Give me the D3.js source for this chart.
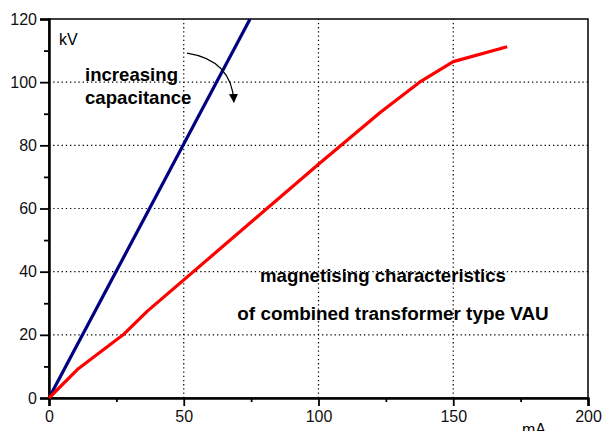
<!DOCTYPE html>
<html>
<head>
<meta charset="utf-8">
<script src="https://cdn.jsdelivr.net/npm/d3@7"></script>
<style>
  body { margin: 0; background: #fff; }
  svg { display: block; font-family: Arial, "Liberation Sans", sans-serif; }
</style>
</head>
<body>
<div id="app"></div>
<script>
// data
var xTicks = [0, 50, 100, 150, 200];
var xMinor = [25, 75, 125, 175];
var yTicks = [0, 20, 40, 60, 80, 100, 120];
var yMinor = [10, 30, 50, 70, 90, 110];

var capacitance = [[0, 0], [74.6, 120]];
var magnetising = [
  [0, 0], [10.5, 9], [27.5, 20], [36.5, 27.5], [100, 74],
  [123, 90.5], [137.5, 100], [150, 106.5], [170, 111.2]
];
var arrowPts = [[51.2, 109.2], [67.9, 107], [68.6, 93.7]];

var width = 604, height = 431;
var margin = { left: 49, right: 16, top: 19, bottom: 33 };

var svg = d3.select('#app').append('svg')
  .attr('width', width)
  .attr('height', height);

var x = d3.scaleLinear().domain([0, 200]).range([margin.left, width - margin.right]);
var y = d3.scaleLinear().domain([0, 120]).range([height - margin.bottom, margin.top]);

svg.append('defs').append('clipPath').attr('id', 'plot')
  .append('rect')
  .attr('x', x(0)).attr('y', y(120))
  .attr('width', x(200) - x(0)).attr('height', y(0) - y(120));

// grid
var grid = svg.append('g').attr('stroke', '#000').attr('stroke-width', 1.2)
  .attr('stroke-dasharray', '1.3,2.9');
grid.selectAll('line.gx').data(xTicks.slice(1, -1)).enter().append('line')
  .attr('x1', d => x(d)).attr('x2', d => x(d))
  .attr('y1', y(0)).attr('y2', y(120));
grid.selectAll('line.gy').data(yTicks.slice(1, -1)).enter().append('line')
  .attr('x1', x(0)).attr('x2', x(200))
  .attr('y1', d => y(d)).attr('y2', d => y(d));

// frame
svg.append('rect')
  .attr('x', x(0)).attr('y', y(120))
  .attr('width', x(200) - x(0)).attr('height', y(0) - y(120))
  .attr('fill', 'none').attr('stroke', '#000').attr('stroke-width', 1.5);

// axes
svg.append('g').attr('transform', 'translate(0,' + y(0) + ')')
  .call(d3.axisBottom(x).tickValues(xTicks).tickSize(8).tickPadding(5));
svg.append('g').attr('transform', 'translate(0,' + y(0) + ')')
  .call(d3.axisBottom(x).tickValues(xMinor).tickSize(4).tickFormat(''))
  .call(g => g.select('.domain').remove());
svg.append('g').attr('transform', 'translate(' + x(0) + ',0)')
  .call(d3.axisLeft(y).tickValues(yTicks).tickSize(9).tickPadding(3));
svg.append('g').attr('transform', 'translate(' + x(0) + ',0)')
  .call(d3.axisLeft(y).tickValues(yMinor).tickSize(5).tickFormat(''))
  .call(g => g.select('.domain').remove());

svg.selectAll('.domain').attr('stroke-width', 2.5);
svg.selectAll('.tick line').attr('stroke-width', 1.8);
svg.selectAll('.tick text')
  .attr('font-size', 16)
  .attr('font-family', 'Arial, "Liberation Sans", sans-serif')
  .attr('fill', '#111');

// lines
var line = d3.line().x(d => x(d[0])).y(d => y(d[1]));

svg.append('path').datum(capacitance)
  .attr('clip-path', 'url(#plot)')
  .attr('d', line)
  .attr('fill', 'none')
  .attr('stroke', '#000080')
  .attr('stroke-width', 3.2);

svg.append('path').datum(magnetising)
  .attr('d', line)
  .attr('fill', 'none')
  .attr('stroke', '#ff0000')
  .attr('stroke-width', 3.2)
  .attr('stroke-linejoin', 'round');

// curved arrow
svg.select('defs').append('marker')
  .attr('id', 'head')
  .attr('viewBox', '0 0 10 10')
  .attr('refX', 9).attr('refY', 5)
  .attr('markerWidth', 9).attr('markerHeight', 12)
  .attr('markerUnits', 'userSpaceOnUse')
  .attr('orient', 'auto')
  .append('path').attr('d', 'M0,0 L10,5 L0,10 Z').attr('fill', '#000');

var ap = arrowPts.map(p => [x(p[0]), y(p[1])]);
svg.append('path')
  .attr('d', 'M' + ap[0] + ' Q' + ap[1] + ' ' + ap[2])
  .attr('fill', 'none')
  .attr('stroke', '#000')
  .attr('stroke-width', 1.2)
  .attr('marker-end', 'url(#head)');

// labels
svg.append('text').attr('x', 59).attr('y', 45)
  .attr('font-size', 16).text('kV');
svg.append('text').attr('x', 522).attr('y', 435)
  .attr('font-size', 16).text('mA');

var bold = svg.append('g').attr('font-size', 18.6).attr('font-weight', 'bold');
bold.append('text').attr('x', 85).attr('y', 81).text('increasing');
bold.append('text').attr('x', 85).attr('y', 104).text('capacitance');
bold.append('text').attr('x', 383).attr('y', 282).attr('text-anchor', 'middle')
  .text('magnetising characteristics');
bold.append('text').attr('x', 393).attr('y', 320).attr('text-anchor', 'middle')
  .attr('font-size', 18.9)
  .text('of combined transformer type VAU');
</script>
</body>
</html>
